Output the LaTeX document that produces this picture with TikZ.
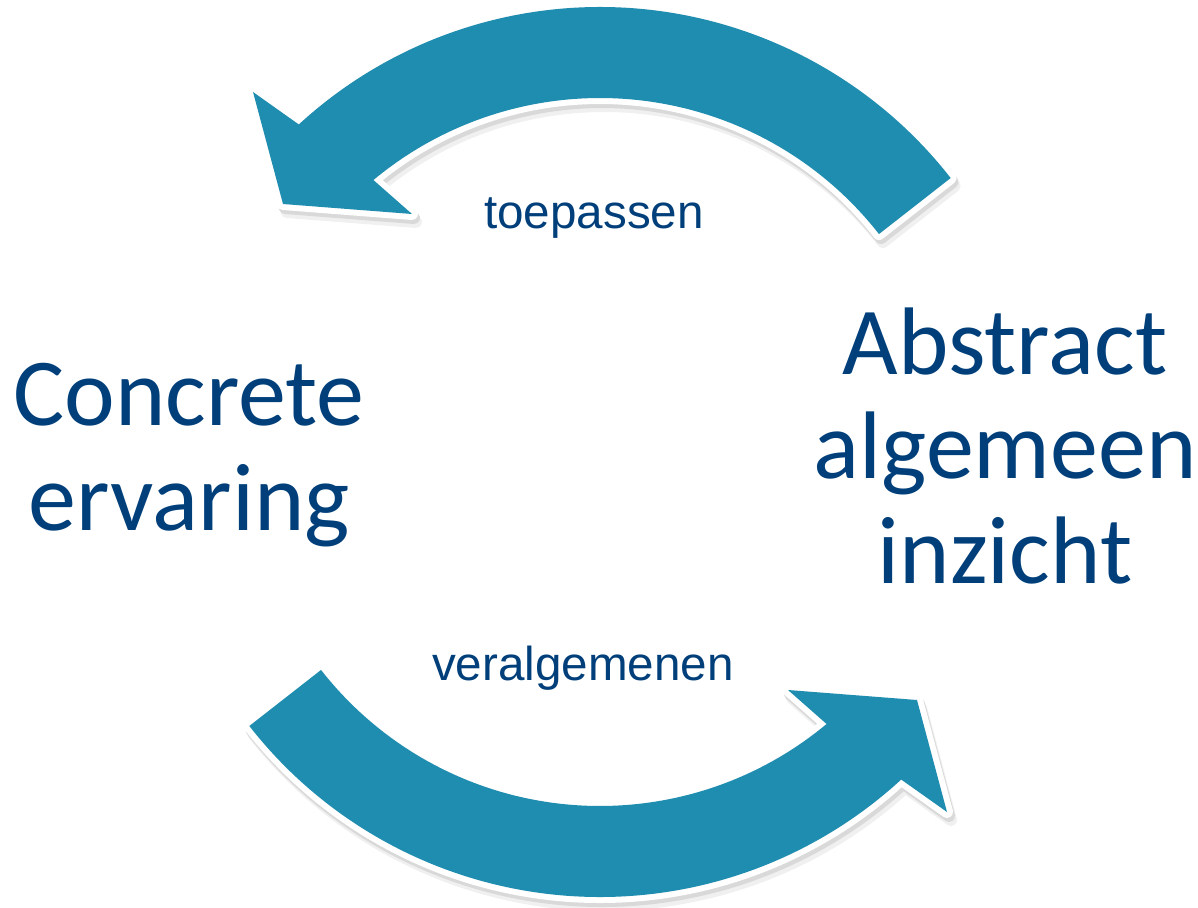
\documentclass[tikz,border=0pt]{standalone}
\usepackage{fontspec}
\setmainfont{Carlito}
\newfontfamily\labelfont{Liberation Sans}
\definecolor{cycleteal}{RGB}{31,141,175}
\definecolor{textblue}{RGB}{0,63,122}

\begin{document}
\begin{tikzpicture}[x=0.5pt,y=0.5pt,
    band/.style={insert path={(38:445) arc[start angle=38,end angle=132.6,radius=445]
        -- (-347,360) -- (-317,248) -- (-188,238)
        -- (129.8:354) arc[start angle=129.8,end angle=38,radius=354] -- cycle}},
    bandshade/.style={fill=#1,draw=#1,line width=6pt,line join=round},
    bandrim/.style={draw=white,line width=6pt,line join=round},
    bigtext/.style={text=textblue,align=center,font=\fontsize{48}{52.25}\selectfont},
    labeltext/.style={text=textblue,font=\labelfont\fontsize{23.8}{28}\selectfont}]
    \useasboundingbox (0,0) rectangle (1198,907);
    \begin{scope}[shift={(600,455)}]
        \foreach \turn in {0,180} {
            \path[bandshade=gray!12,shift={(4,-8)},rotate=\turn,band];
            \path[bandshade=gray!30,shift={(2,-4)},rotate=\turn,band];
            \path[bandrim,rotate=\turn,band];
            \fill[cycleteal,rotate=\turn,band];
        }
    \end{scope}
    \node[bigtext,anchor=base] (concrete) at (189,377) {Concrete\\ervaring};
    \node[bigtext,anchor=base] (abstract) at (1005,324) {Abstract\\algemeen\\inzicht};
    \node[labeltext,anchor=base] (toepassen) at (594,679) {toepassen};
    \node[labeltext,anchor=base] (veralgemenen) at (583,227) {veralgemenen};
\end{tikzpicture}
\end{document}
